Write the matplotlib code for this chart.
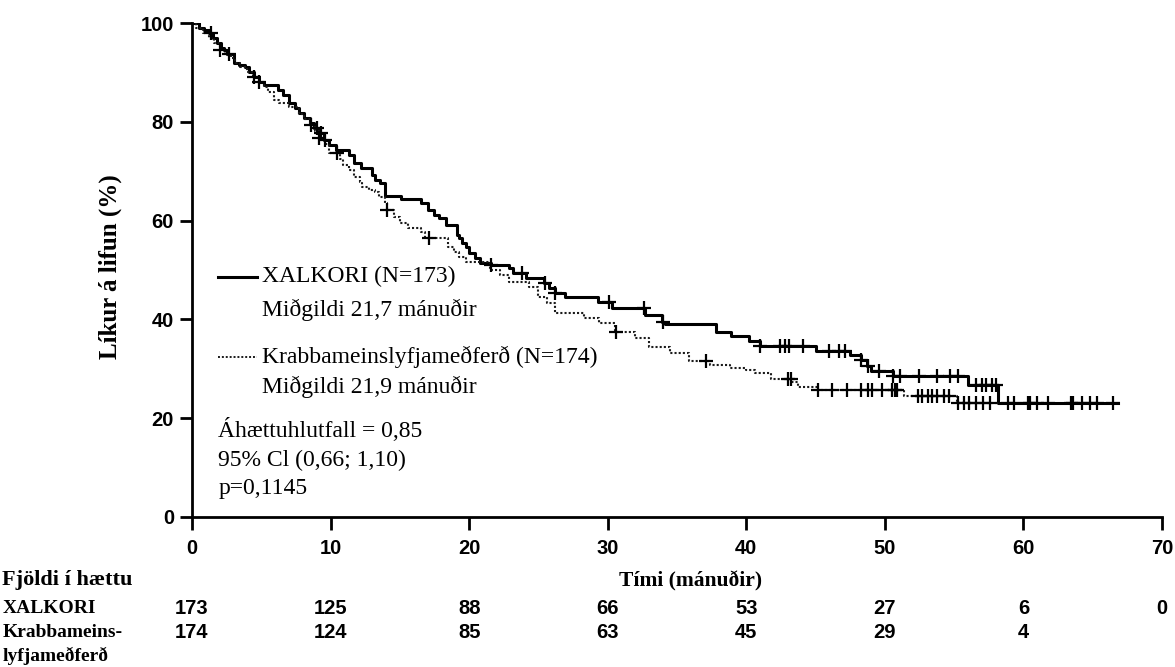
import numpy as np
import matplotlib.pyplot as plt
import matplotlib.transforms as mtransforms

# Kaplan-Meier: XALKORI
xal_t = [0, 0.5, 0.9, 1.2, 1.5, 1.8, 2.1, 2.3, 2.5, 3.0, 3.4, 3.8, 4.1, 4.5, 4.8,
         5.2, 6.2, 6.6, 7.0, 7.4, 7.7, 8.1, 8.5, 8.8, 9.2, 9.5, 9.9, 10.4, 11.3,
         11.7, 12.2, 13.0, 13.2, 13.6, 13.9, 15.1, 16.5, 17.0, 17.5, 17.8, 18.3,
         19.1, 19.3, 19.5, 19.8, 20.0, 20.4, 20.8, 21.6, 22.9, 23.2, 24.1, 25.4,
         25.8, 26.2, 26.9, 29.3, 30.3, 32.7, 33.9, 34.1, 37.8, 38.9, 40.2, 41.0,
         45.0, 47.5, 48.3, 48.7, 49.0, 50.6, 56.0, 58.2, 66.8]
xal_s = [100, 99, 98.6, 98, 97, 96, 95, 94.5, 93.7, 92, 91.5, 91, 90, 89, 88,
         87.4, 86.4, 85.4, 83.8, 82.8, 81.8, 80.8, 79.8, 78.7, 77.7, 76.3, 75.3,
         74.3, 73.3, 71.7, 70.6, 69.2, 68.2, 67.6, 65.0, 64.4, 63.5, 62.1, 61.1,
         60.5, 59.1, 57.1, 56.5, 55.5, 54.7, 53.4, 52.4, 51.4, 51.0, 50.4, 49.4,
         48.4, 47.4, 46.4, 45.3, 44.5, 43.5, 42.3, 40.9, 39.5, 39.0, 37.4, 36.6,
         35.6, 34.6, 33.6, 32.8, 31.8, 30.6, 29.6, 28.6, 26.7, 23.0, 23.0]
xal_cens = [1.4, 2.7, 4.5, 4.8, 9.0, 9.3, 9.6, 21.6, 23.8, 25.5, 26.2, 30.1, 32.6,
            34.0, 41.0, 42.4, 42.8, 43.1, 44.1, 46.0, 46.7, 47.1, 48.3, 48.8, 49.6,
            50.6, 51.1, 52.5, 53.8, 54.7, 55.3, 56.6, 57.0, 57.3, 57.7, 58.0, 58.9,
            59.3, 60.3, 60.5, 61.0, 61.8, 63.4, 63.6, 64.2, 64.8, 65.3, 66.5]

# Kaplan-Meier: krabbameinslyfjameðferð
chem_t = [0, 0.3, 0.8, 1.2, 1.6, 2.0, 2.4, 2.8, 3.1, 3.5, 4.0, 4.4, 4.8, 5.2, 5.5,
          5.9, 6.3, 7.0, 7.7, 8.1, 8.5, 8.9, 9.2, 9.6, 9.9, 10.7, 10.9, 11.3, 11.7,
          12.1, 12.3, 12.8, 13.2, 13.5, 13.9, 14.1, 14.6, 15.0, 15.6, 16.5, 16.8,
          18.5, 18.9, 19.3, 19.8, 21.5, 22.2, 22.9, 24.3, 25.0, 25.6, 26.2, 28.3,
          29.4, 30.5, 32.0, 33.0, 34.5, 35.9, 37.4, 38.8, 40.0, 40.6, 41.8, 43.3,
          43.7, 45.2, 51.4, 55.2, 58.2]
chem_s = [100, 99, 98, 97, 96, 94.5, 93.5, 93, 92, 91, 90, 89, 88, 87, 86, 84.4,
          83.8, 83.0, 81.5, 80.5, 79.4, 78.2, 76.7, 75.5, 73.7, 72.5, 71.3, 70.2,
          68.8, 67.8, 66.8, 66.2, 65.8, 64.8, 63.6, 62.1, 60.7, 59.5, 58.5, 57.7,
          56.4, 54.7, 53.6, 52.6, 51.6, 50.0, 49.0, 47.6, 46.6, 44.5, 43.3, 41.3,
          40.3, 39.3, 37.4, 36.2, 34.4, 33.2, 31.6, 30.8, 30.2, 29.8, 29.1, 27.9,
          27.3, 26.3, 25.7, 24.5, 23.0, 23.0]
chem_cens = [2.0, 8.6, 9.2, 10.5, 14.1, 17.1, 30.6, 37.1, 43.0, 43.2, 45.2, 46.2,
             47.3, 48.3, 48.8, 49.1, 49.8, 50.5, 50.7, 50.9, 52.4, 52.7, 53.1, 53.4,
             53.8, 54.3, 54.6, 55.3, 55.7, 56.1, 56.6, 57.1, 57.6]

# fjöldi í hættu
risk_times = [0, 10, 20, 30, 40, 50, 60, 70]
risk_xal = ['173', '125', '88', '66', '53', '27', '6', '0']
risk_chem = ['174', '124', '85', '63', '45', '29', '4', '']

serif = 'Liberation Serif'
sans = 'Liberation Sans'


def surv_at(times, surv, t):
    idx = np.searchsorted(times, t, side='right') - 1
    return np.array(surv)[idx]


fig = plt.figure(figsize=(11.75, 6.67), dpi=100)
ax = fig.add_axes([0.1634, 0.2249, 0.8255, 0.7406])

ax.plot(xal_t, xal_s, drawstyle='steps-post', color='black', lw=2.2)
ax.plot(chem_t, chem_s, drawstyle='steps-post', color='#1a1a1a', lw=1.5,
        linestyle=(0, (1, 1)))
ax.plot(xal_cens, surv_at(xal_t, xal_s, xal_cens), '+', color='black',
        ms=10, mew=1.6)
ax.plot(chem_cens, surv_at(chem_t, chem_s, chem_cens), '+', color='black',
        ms=10, mew=1.6)

ax.set_xlim(0, 70)
ax.set_ylim(0, 100)
ax.set_xticks(range(0, 71, 10))
ax.set_yticks(range(0, 101, 20))
for s in ['top', 'right']:
    ax.spines[s].set_visible(False)
for s in ['left', 'bottom']:
    ax.spines[s].set_linewidth(2)
ax.tick_params(direction='out', length=9, width=2, labelsize=14.5)
ax.tick_params(axis='x', pad=7)
ax.tick_params(axis='y', pad=4)
for lab in ax.get_xticklabels() + ax.get_yticklabels():
    lab.set_fontfamily(sans)
    lab.set_fontweight('bold')

# skýringar
ax.plot([0.027, 0.067], [0.486, 0.486], transform=ax.transAxes, color='black', lw=2.2)
ax.plot([0.027, 0.067], [0.324, 0.324], transform=ax.transAxes, color='#1a1a1a',
        lw=1.4, linestyle=(0, (1, 1)))
tkw = dict(transform=ax.transAxes, fontfamily=serif, fontsize=17, va='center')
ax.text(0.072, 0.486, 'XALKORI (N=173)', **tkw)
ax.text(0.072, 0.419, 'Miðgildi 21,7 mánuðir', **tkw)
ax.text(0.072, 0.324, 'Krabbameinslyfjameðferð (N=174)', **tkw)
ax.text(0.072, 0.263, 'Miðgildi 21,9 mánuðir', **tkw)
ax.text(0.027, 0.176, 'Áhættuhlutfall = 0,85', **tkw)
ax.text(0.027, 0.115, '95% Cl (0,66; 1,10)', **tkw)
ax.text(0.027, 0.057, 'p=0,1145', **tkw)

fig.text(110 / 1175, 0.6, 'Líkur á lifun (%)', rotation=90, ha='center', va='center',
         fontfamily=serif, fontweight='bold', fontsize=18)
trans = mtransforms.blended_transform_factory(ax.transData, fig.transFigure)
ax.text(36.0, 0.129, 'Tími (mánuðir)', transform=trans, ha='center', va='center',
        fontfamily=serif, fontweight='bold', fontsize=15.5)

# tafla
fig.text(0.002, 0.130, 'Fjöldi í hættu', fontfamily=serif, fontweight='bold',
         fontsize=16, va='center')
fig.text(0.002, 0.087, 'XALKORI', fontfamily=serif, fontweight='bold',
         fontsize=14, va='center')
fig.text(0.002, 0.051, 'Krabbameins-', fontfamily=serif, fontweight='bold',
         fontsize=14, va='center')
fig.text(0.002, 0.0165, 'lyfjameðferð', fontfamily=serif, fontweight='bold',
         fontsize=14, va='center')
for t, a, b in zip(risk_times, risk_xal, risk_chem):
    ax.text(t, 0.087, a, transform=trans, ha='center', va='center',
            fontfamily=sans, fontweight='bold', fontsize=14.5, clip_on=False)
    ax.text(t, 0.051, b, transform=trans, ha='center', va='center',
            fontfamily=sans, fontweight='bold', fontsize=14.5, clip_on=False)

fig.savefig('out.png', dpi=100)
